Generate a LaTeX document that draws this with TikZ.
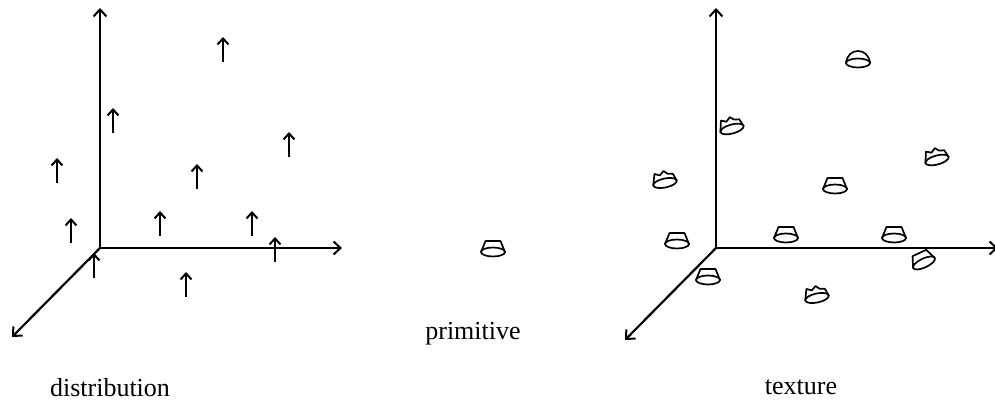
\documentclass[tikz,border=0pt]{standalone}
\usepackage{fontspec}
\setmainfont{Liberation Serif}
\usetikzlibrary{arrows.meta}
\tikzset{
  axis/.style={line width=2.2pt,-{Straight Barb[length=7pt,width=13pt,line width=2pt]}},
  vec/.style={line width=2.1pt,-{Straight Barb[length=6pt,width=11pt,line width=2pt]}},
  prim/.style={line width=1.7pt,line join=round,line cap=round},
  lbl/.style={font=\fontsize{26}{31}\selectfont,anchor=base,inner sep=0pt},
  pics/frustum/.style={code={
    \draw[prim] (0,0) ellipse [x radius=12pt,y radius=4.5pt];
    \draw[prim] (-12,0) -- (-7.5,-11) -- (7.5,-11) -- (12,0);
  }},
  pics/dome/.style={code={
    \draw[prim] (0,0) ellipse [x radius=12pt,y radius=4.5pt];
    \draw[prim] (-12,0) .. controls (-11,-8) and (-6,-12) .. (0,-12) .. controls (6,-12) and (11,-8) .. (12,0);
  }},
  pics/crown/.style={code={
    \draw[prim] (0,0) ellipse [x radius=12pt,y radius=4.5pt];
    \draw[prim] (-12,0) -- (-8.5,-11) -- (-3.5,-8.5) -- (1,-12) -- (4.5,-8.5) -- (9.5,-7.5) -- (12,0);
  }},
}
\begin{document}
\begin{tikzpicture}[x=1pt,y=-1pt]
\useasboundingbox (0,0) rectangle (995,414);
% distribution axes
\coordinate (O1) at (100,248);
\coordinate (Y1) at (100,8);
\coordinate (X1) at (342,248);
\coordinate (Z1) at (12,337);
\draw[axis] (O1) -- (Y1);
\draw[axis] (O1) -- (X1);
\draw[axis] (O1) -- (Z1);
% distribution vectors
\foreach \x/\y in {223/62,113/133,289/157,57/183,197/189,71/243,160/236,252/236,275/262,94/278,186/297}
  \draw[vec] (\x,\y) -- ++(0,-25);
\node[lbl] (ldist) at (110,396) {distribution};
% primitive
\pic at (493,252) {frustum};
\node[lbl] (lprim) at (473,339) {primitive};
% texture axes
\coordinate (O2) at (716,248);
\coordinate (Y2) at (716,8);
\coordinate (X2) at (998,248);
\coordinate (Z2) at (625,340);
\draw[axis] (O2) -- (Y2);
\draw[axis] (O2) -- (X2);
\draw[axis] (O2) -- (Z2);
% texture primitives
\pic at (858,63) {dome};
\pic[rotate=15] at (732,129) {crown};
\pic[rotate=15] at (937,160) {crown};
\pic[rotate=12] at (665,183) {crown};
\pic at (835,189) {frustum};
\pic at (677,244) {frustum};
\pic at (786,238) {frustum};
\pic at (894,238) {frustum};
\pic[rotate=25] at (924,263) {frustum};
\pic at (708,280) {frustum};
\pic[rotate=12] at (817,298) {crown};
\node[lbl] (ltex) at (801,394) {texture};
\end{tikzpicture}
\end{document}
